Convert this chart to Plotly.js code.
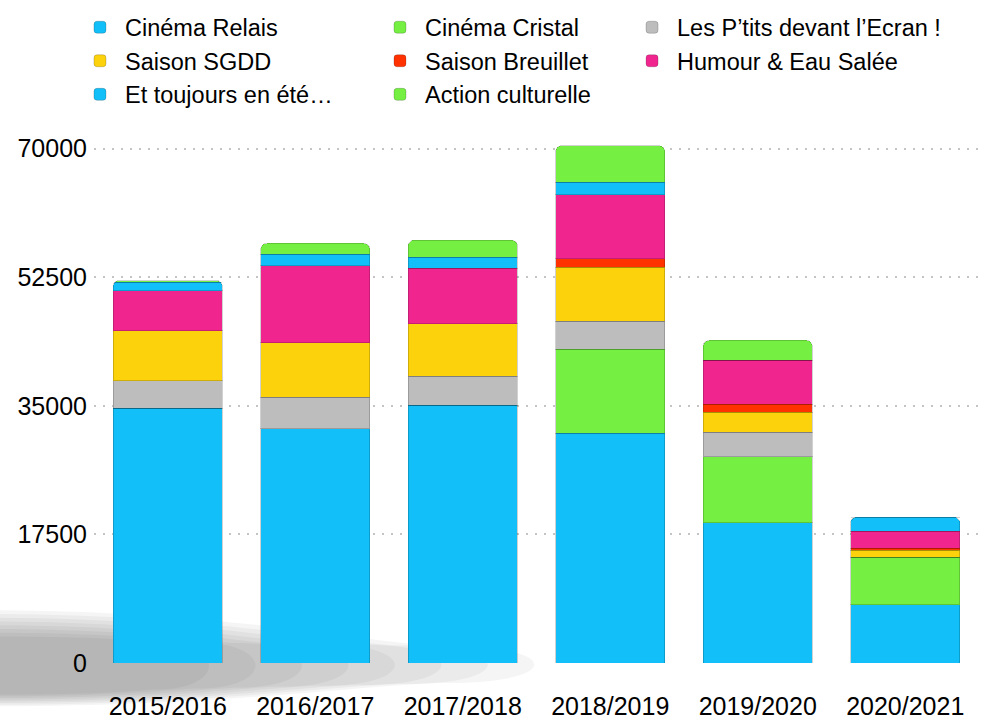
<!DOCTYPE html>
<html>
<head>
<meta charset="utf-8">
<script src="https://cdn.plot.ly/plotly-3.0.1.min.js"></script>
<style>html,body{margin:0;padding:0;background:#fff}#chart{width:982px;height:719px}</style>
</head>
<body>
<div id="chart"></div>
<script>
const categories = ["2015/2016", "2016/2017", "2017/2018", "2018/2019", "2019/2020", "2020/2021"];
const cinemaRelais      = [34700, 31900, 35100, 31300, 19100, 7900];
const cinemaCristal     = [0, 0, 0, 11400, 9000, 6500];
const lesPtits          = [3700, 4300, 3950, 3800, 3300, 0];
const saisonSGDD        = [6800, 7400, 7100, 7350, 2700, 950];
const saisonBreuillet   = [0, 0, 0, 1200, 1100, 300];
const humourEauSalee    = [5450, 10500, 7600, 8700, 6000, 2300];
const etToujoursEnEte   = [1200, 1500, 1500, 1650, 0, 1900];
const actionCulturelle  = [200, 1500, 2300, 5000, 2700, 0];
const yTicks = [0, 17500, 35000, 52500, 70000];

const series = [
  {name: "Cinéma Relais", values: cinemaRelais, color: "#12bff8", legend: "legend"},
  {name: "Cinéma Cristal", values: cinemaCristal, color: "#74ef42", legend: "legend2"},
  {name: "Les P’tits devant l’Ecran !", values: lesPtits, color: "#bdbdbd", legend: "legend3"},
  {name: "Saison SGDD", values: saisonSGDD, color: "#fcd20c", legend: "legend"},
  {name: "Saison Breuillet", values: saisonBreuillet, color: "#ff3200", legend: "legend2"},
  {name: "Humour & Eau Salée", values: humourEauSalee, color: "#f0268e", legend: "legend3"},
  {name: "Et toujours en été…", values: etToujoursEnEte, color: "#12bff8", legend: "legend"},
  {name: "Action culturelle", values: actionCulturelle, color: "#74ef42", legend: "legend2"}
];

const traces = series.map(s => ({
  type: "bar",
  name: s.name,
  x: categories,
  y: s.values,
  legend: s.legend,
  marker: {color: s.color, line: {color: "rgba(0,0,0,0.18)", width: 1}},
  hoverinfo: "x+y+name"
}));

const font = {family: "Liberation Sans, Arial, Helvetica, sans-serif", color: "#000"};
const legendBase = {
  orientation: "v", traceorder: "normal", xanchor: "left", yanchor: "top",
  y: 1.243, font: Object.assign({}, font, {size: 23.5}), bgcolor: "rgba(0,0,0,0)",
  itemwidth: 40, itemclick: false, itemdoubleclick: false, tracegroupgap: 0
};

// soft floor shadow (decoration): layered translucent rounded shapes
const shadowShapes = [];
const nLayers = 8;
const lerp = (a, b, t) => a + (b - a) * t;
for (let i = 0; i < nLayers; i++) {
  const t = i / (nLayers - 1);
  const xr = lerp(0.53, 0.15, t);
  const x0 = lerp(0.40, 0.07, t);
  const top = lerp(0.10, 0.05, t);
  const bot = lerp(-0.082, -0.06, t);
  const topR = lerp(0.032, 0.04, t);
  const botR = lerp(-0.038, -0.05, t);
  const f = v => v.toFixed(4);
  shadowShapes.push({
    type: "path", xref: "paper", yref: "paper", layer: "below",
    path: `M -0.12,${f(top)} C ${f(x0 * 0.4)},${f(top)} ${f(x0 * 0.8)},${f(topR)} ${f(x0)},${f(topR)} ` +
          `C ${f(xr)},${f(topR)} ${f(xr)},${f(botR)} ${f(x0)},${f(botR)} ` +
          `C ${f(x0 * 0.8)},${f(botR)} ${f(x0 * 0.4)},${f(bot)} -0.12,${f(bot)} Z`,
    fillcolor: "rgba(0,0,0,0.04)", line: {width: 0}
  });
}

const layout = {
  width: 982, height: 719,
  margin: {l: 94, r: 3, t: 134, b: 56},
  paper_bgcolor: "#fff", plot_bgcolor: "rgba(0,0,0,0)",
  barmode: "stack", bargap: 0.26, barcornerradius: 6,
  font: font,
  showlegend: true,
  legend: Object.assign({}, legendBase, {x: -0.0215}),
  legend2: Object.assign({}, legendBase, {x: 0.3175}),
  legend3: Object.assign({}, legendBase, {x: 0.6023}),
  xaxis: {
    type: "category", showgrid: false, zeroline: false, showline: false, ticks: "",
    tickfont: Object.assign({}, font, {size: 25}), ticklabelstandoff: 26
  },
  yaxis: {
    range: [0, 72000], tickmode: "array", tickvals: yTicks, ticktext: yTicks.map(String),
    showgrid: true, gridcolor: "#c4c4c4", gridwidth: 2, griddash: "2px,7px",
    zeroline: false, showline: false, ticks: "",
    tickfont: Object.assign({}, font, {size: 25}), ticklabelstandoff: 6
  },
  shapes: shadowShapes
};

Plotly.newPlot("chart", traces, layout, {displayModeBar: false});
</script>
</body>
</html>
